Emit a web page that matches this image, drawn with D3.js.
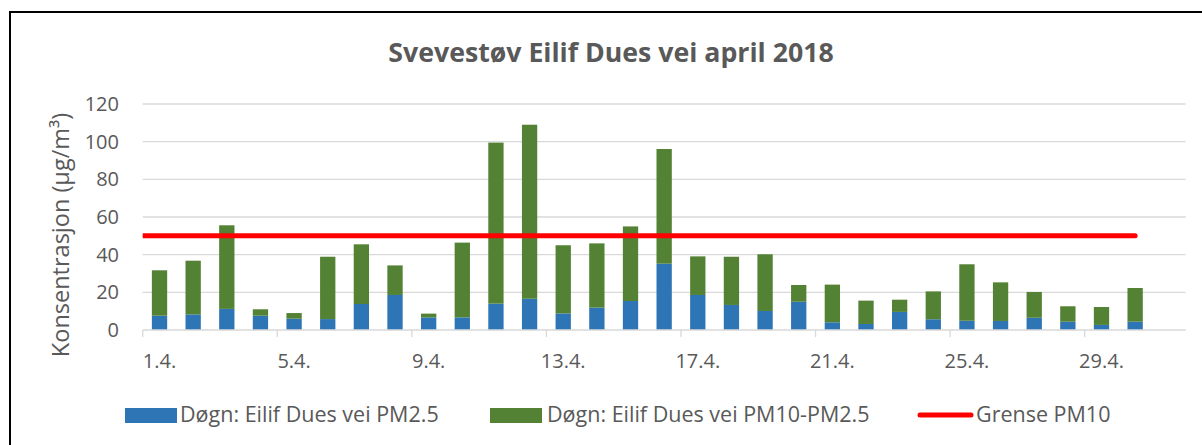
<!DOCTYPE html>
<html><head><meta charset="utf-8">
<script src="https://cdn.jsdelivr.net/npm/d3@7"></script>
<style>body{margin:0;background:#fff}svg{display:block}</style>
</head><body><svg id="c" width="1202" height="445"></svg>
<script>
const chartTitle = "Svevestøv Eilif Dues vei april 2018";
const yAxisTitle = "Konsentrasjon (µg/m³)";
const days = ["1.4.","2.4.","3.4.","4.4.","5.4.","6.4.","7.4.","8.4.","9.4.","10.4.",
  "11.4.","12.4.","13.4.","14.4.","15.4.","16.4.","17.4.","18.4.","19.4.","20.4.",
  "21.4.","22.4.","23.4.","24.4.","25.4.","26.4.","27.4.","28.4.","29.4.","30.4.","1.5."];
const pm25 = [7.6, 8.3, 11.2, 7.6, 6.0, 5.8, 13.8, 18.6, 6.7, 6.7,
  14.0, 16.6, 8.8, 11.9, 15.4, 35.2, 18.6, 13.3, 10.1, 15.0,
  4.1, 3.2, 9.6, 5.7, 4.9, 4.8, 6.5, 4.4, 2.7, 4.4];
const pm10minus25 = [24.1, 28.5, 44.4, 3.4, 3.0, 33.1, 31.7, 15.7, 2.0, 39.7,
  85.5, 92.4, 36.2, 34.1, 39.6, 60.9, 20.5, 25.6, 30.1, 8.9,
  20.0, 12.4, 6.5, 14.8, 30.0, 20.5, 13.7, 8.2, 9.5, 17.9];
const limitPM10 = [50,50,50,50,50,50,50,50,50,50,50,50,50,50,50,50,50,50,50,50,50,50,50,50,50,50,50,50,50,50];
const yTicks = [0, 20, 40, 60, 80, 100, 120];
const seriesNames = ["Døgn: Eilif Dues vei PM2.5", "Døgn: Eilif Dues vei PM10-PM2.5", "Grense PM10"];
const colors = ["#2E75B6", "#548235", "#FF0000"];

(function () {
const svg = d3.select("#c");
const font = "'Open Sans', 'Liberation Sans', sans-serif";
const textCol = "#595959";

// frame
svg.append("rect").attr("x", 10).attr("y", 12).attr("width", 1200).attr("height", 440)
  .attr("fill", "none").attr("stroke", "#000").attr("stroke-width", 2);

const pL = 142.7, pR = 1185.6, pT = 104, pB = 330;
const x = d3.scaleBand().domain(days).range([pL, pR]).paddingInner(0.545).paddingOuter(0.2725);
const y = d3.scaleLinear().domain([0, 120]).range([pB, pT]);
const step = x.step();

// gridlines
svg.append("g").selectAll("line").data(yTicks.filter(t => t > 0)).join("line")
  .attr("x1", pL).attr("x2", pR).attr("y1", d => y(d)).attr("y2", d => y(d))
  .attr("stroke", "#D9D9D9").attr("stroke-width", 1.3);

// y labels
svg.append("g").selectAll("text").data(yTicks).join("text")
  .attr("x", 119).attr("y", d => y(d)).attr("dy", "0.35em")
  .attr("text-anchor", "end").attr("font-family", font).attr("font-size", 20)
  .attr("fill", textCol).text(d => d);

// bars
const stackData = days.slice(0, pm25.length).map((d, i) => ({day: d, a: pm25[i], b: pm10minus25[i]}));
const stack = d3.stack().keys(["a", "b"])(stackData);
svg.append("g").selectAll("g").data(stack).join("g").attr("fill", (d, i) => colors[i])
  .selectAll("rect").data(d => d).join("rect")
  .attr("x", d => x(d.data.day)).attr("width", x.bandwidth())
  .attr("y", d => y(d[1])).attr("height", d => y(d[0]) - y(d[1]));

// x axis line
svg.append("line").attr("x1", pL).attr("x2", pR).attr("y1", pB).attr("y2", pB)
  .attr("stroke", "#D9D9D9").attr("stroke-width", 1.3);
const tickIdx = d3.range(0, days.length - 1, 4);
svg.append("g").selectAll("line").data(tickIdx).join("line")
  .attr("x1", i => pL + i * step).attr("x2", i => pL + i * step)
  .attr("y1", pB).attr("y2", pB + 7)
  .attr("stroke", "#D9D9D9").attr("stroke-width", 1.3);
svg.append("g").selectAll("text").data(tickIdx).join("text")
  .attr("x", i => x(days[i]) + x.bandwidth() / 2).attr("y", 368)
  .attr("text-anchor", "middle").attr("font-family", font).attr("font-size", 20)
  .attr("fill", textCol).text(i => days[i]);

// limit line
svg.append("clipPath").attr("id", "pc").append("rect")
  .attr("x", pL).attr("y", 0).attr("width", pR - pL + 10).attr("height", 445);
const linePts = [[pL - 5, limitPM10[0]]].concat(limitPM10.map((v, i) => [x(days[i]) + x.bandwidth() / 2, v]));
svg.append("path").attr("clip-path", "url(#pc)")
  .attr("d", d3.line().x(d => d[0]).y(d => y(d[1]))(linePts))
  .attr("fill", "none").attr("stroke", colors[2]).attr("stroke-width", 5)
  .attr("stroke-linecap", "round");

// title
svg.append("text").attr("x", 611).attr("y", 62).attr("text-anchor", "middle")
  .attr("font-family", font).attr("font-weight", "bold").attr("font-size", 26.7)
  .attr("fill", textCol).text(chartTitle);

// y title
svg.append("text").attr("transform", "translate(69,235) rotate(-90)")
  .attr("text-anchor", "middle").attr("font-family", font).attr("font-size", 23.5)
  .attr("fill", textCol).text(yAxisTitle);

// legend
const lg = svg.append("g").attr("font-family", font).attr("font-size", 21.5).attr("fill", textCol);
lg.append("rect").attr("x", 125).attr("y", 408).attr("width", 52).attr("height", 15).attr("fill", colors[0]);
lg.append("text").attr("x", 180).attr("y", 422).text(seriesNames[0]);
lg.append("rect").attr("x", 490).attr("y", 408).attr("width", 52).attr("height", 15).attr("fill", colors[1]);
lg.append("text").attr("x", 547).attr("y", 422).text(seriesNames[1]);
lg.append("line").attr("x1", 920).attr("x2", 971).attr("y1", 415).attr("y2", 415)
  .attr("stroke", colors[2]).attr("stroke-width", 5).attr("stroke-linecap", "round");
lg.append("text").attr("x", 976).attr("y", 422).text(seriesNames[2]);
})();
</script></body></html>
